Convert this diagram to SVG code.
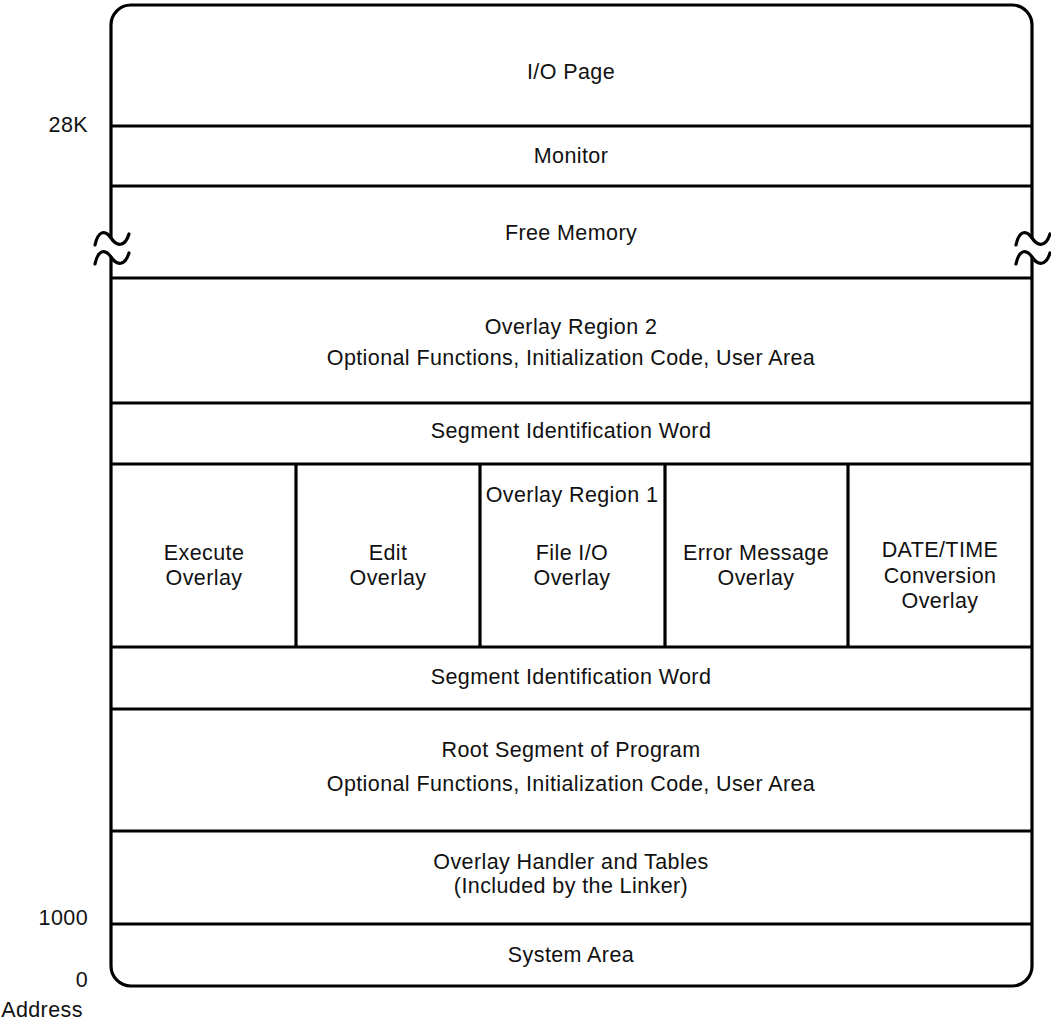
<svg xmlns="http://www.w3.org/2000/svg" width="1051" height="1022" viewBox="0 0 1051 1022">
<style>
.t{font-family:"Liberation Sans",Arial,sans-serif;font-size:21.5px;letter-spacing:0.4px;fill:#111;text-anchor:middle}
.l{font-family:"Liberation Sans",Arial,sans-serif;font-size:21.5px;letter-spacing:0.4px;fill:#111;text-anchor:end}
.s{fill:none;stroke:#000;stroke-width:3.2}
.w{fill:none;stroke:#000;stroke-width:3.2;stroke-linecap:round}
</style>
<defs>
<path id="wave" d="M-17,7 C-14,-7 -7,-9 -1,0 C5,9 13,9 17,-4"/>
</defs>
<rect width="1051" height="1022" fill="#fff"/>
<g id="outline">
<path class="s" d="M111,238 L111,25 A20,20 0 0 1 131,5 L1012,5 A20,20 0 0 1 1032,25 L1032,238"/>
<path class="s" d="M1032,258 L1032,966 A20,20 0 0 1 1012,986 L131,986 A20,20 0 0 1 111,966 L111,258"/>
<use href="#wave" class="w" x="112" y="238"/>
<use href="#wave" class="w" x="112" y="257"/>
<use href="#wave" class="w" x="1033" y="238"/>
<use href="#wave" class="w" x="1033" y="257"/>
</g>
<g id="connectors">
<path class="s" d="M111,126H1032M111,186H1032M111,278H1032M111,403H1032M111,464H1032M111,647H1032M111,709H1032M111,831H1032M111,924H1032"/>
<path class="s" d="M296,464V647M480,464V647M665,464V647M848,464V647"/>
</g>
<g id="io-page"><text class="t" x="571" y="79">I/O Page</text></g>
<g id="monitor"><text class="t" x="571" y="163">Monitor</text></g>
<g id="free-memory"><text class="t" x="571" y="240">Free Memory</text></g>
<g id="overlay-region-2"><text class="t" x="571" y="334">Overlay Region 2</text><text class="t" x="571" y="365">Optional Functions, Initialization Code, User Area</text></g>
<g id="segment-id-1"><text class="t" x="571" y="438">Segment Identification Word</text></g>
<g id="execute-overlay"><text class="t" x="204" y="560">Execute</text><text class="t" x="204" y="585">Overlay</text></g>
<g id="edit-overlay"><text class="t" x="388" y="560">Edit</text><text class="t" x="388" y="585">Overlay</text></g>
<g id="file-io-overlay"><text class="t" x="572" y="502">Overlay Region 1</text><text class="t" x="572" y="560">File I/O</text><text class="t" x="572" y="585">Overlay</text></g>
<g id="error-message-overlay"><text class="t" x="756" y="560">Error Message</text><text class="t" x="756" y="585">Overlay</text></g>
<g id="datetime-overlay"><text class="t" x="940" y="557">DATE/TIME</text><text class="t" x="940" y="583">Conversion</text><text class="t" x="940" y="608">Overlay</text></g>
<g id="segment-id-2"><text class="t" x="571" y="684">Segment Identification Word</text></g>
<g id="root-segment"><text class="t" x="571" y="757">Root Segment of Program</text><text class="t" x="571" y="791">Optional Functions, Initialization Code, User Area</text></g>
<g id="overlay-handler"><text class="t" x="571" y="869">Overlay Handler and Tables</text><text class="t" x="571" y="893">(Included by the Linker)</text></g>
<g id="system-area"><text class="t" x="571" y="962">System Area</text></g>
<g id="addresses">
<text class="l" x="88" y="132">28K</text>
<text class="l" x="88" y="925">1000</text>
<text class="l" x="88" y="987">0</text>
<text class="t" x="42" y="1017">Address</text>
</g>
</svg>
